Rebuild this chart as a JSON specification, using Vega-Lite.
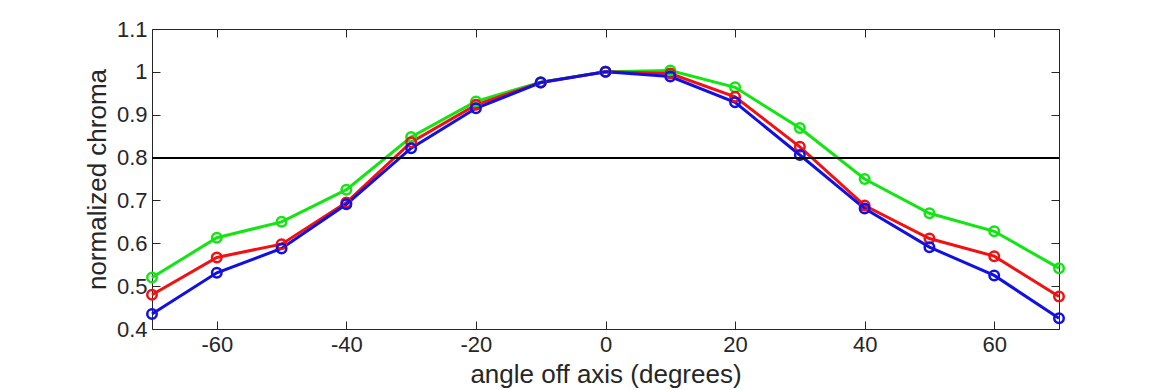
{
  "$schema": "https://vega.github.io/schema/vega-lite/v6.json",
  "width": 907,
  "height": 300,
  "autosize": {"type": "none"},
  "padding": {"left": 152, "top": 29, "right": 111, "bottom": 61},
  "background": "white",
  "config": {
    "view": {"stroke": "#262626", "strokeWidth": 1},
    "font": "Liberation Sans",
    "axis": {
      "grid": false,
      "domain": false,
      "tickColor": "#262626",
      "tickSize": -8,
      "labelColor": "#262626",
      "labelFont": "Liberation Sans",
      "labelFontSize": 22,
      "titleFont": "Liberation Sans",
      "titleFontSize": 26,
      "titleFontWeight": "normal",
      "titleColor": "#262626"
    }
  },
  "resolve": {"axis": {"x": "independent", "y": "independent"}},
  "data": {
    "values": [
      {"angle": -70, "channel": "green", "value": 0.520},
      {"angle": -60, "channel": "green", "value": 0.613},
      {"angle": -50, "channel": "green", "value": 0.650},
      {"angle": -40, "channel": "green", "value": 0.725},
      {"angle": -30, "channel": "green", "value": 0.848},
      {"angle": -20, "channel": "green", "value": 0.931},
      {"angle": -10, "channel": "green", "value": 0.976},
      {"angle": 0, "channel": "green", "value": 1.0},
      {"angle": 10, "channel": "green", "value": 1.003},
      {"angle": 20, "channel": "green", "value": 0.964},
      {"angle": 30, "channel": "green", "value": 0.869},
      {"angle": 40, "channel": "green", "value": 0.750},
      {"angle": 50, "channel": "green", "value": 0.670},
      {"angle": 60, "channel": "green", "value": 0.628},
      {"angle": 70, "channel": "green", "value": 0.542},
      {"angle": -70, "channel": "red", "value": 0.480},
      {"angle": -60, "channel": "red", "value": 0.567},
      {"angle": -50, "channel": "red", "value": 0.598},
      {"angle": -40, "channel": "red", "value": 0.695},
      {"angle": -30, "channel": "red", "value": 0.836},
      {"angle": -20, "channel": "red", "value": 0.923},
      {"angle": -10, "channel": "red", "value": 0.975},
      {"angle": 0, "channel": "red", "value": 1.0},
      {"angle": 10, "channel": "red", "value": 0.996},
      {"angle": 20, "channel": "red", "value": 0.942},
      {"angle": 30, "channel": "red", "value": 0.825},
      {"angle": 40, "channel": "red", "value": 0.688},
      {"angle": 50, "channel": "red", "value": 0.611},
      {"angle": 60, "channel": "red", "value": 0.570},
      {"angle": 70, "channel": "red", "value": 0.476},
      {"angle": -70, "channel": "blue", "value": 0.435},
      {"angle": -60, "channel": "blue", "value": 0.531},
      {"angle": -50, "channel": "blue", "value": 0.588},
      {"angle": -40, "channel": "blue", "value": 0.691},
      {"angle": -30, "channel": "blue", "value": 0.822},
      {"angle": -20, "channel": "blue", "value": 0.915},
      {"angle": -10, "channel": "blue", "value": 0.975},
      {"angle": 0, "channel": "blue", "value": 1.0},
      {"angle": 10, "channel": "blue", "value": 0.989},
      {"angle": 20, "channel": "blue", "value": 0.929},
      {"angle": 30, "channel": "blue", "value": 0.806},
      {"angle": 40, "channel": "blue", "value": 0.681},
      {"angle": 50, "channel": "blue", "value": 0.591},
      {"angle": 60, "channel": "blue", "value": 0.525},
      {"angle": 70, "channel": "blue", "value": 0.425}
    ]
  },
  "encoding": {
    "x": {
      "field": "angle",
      "type": "quantitative",
      "scale": {"domain": [-70, 70], "nice": false, "zero": false},
      "axis": null
    },
    "y": {
      "field": "value",
      "type": "quantitative",
      "scale": {"domain": [0.4, 1.1], "nice": false, "zero": false},
      "axis": null
    },
    "color": {
      "field": "channel",
      "type": "nominal",
      "scale": {"domain": ["green", "red", "blue"], "range": ["#12e612", "#f21010", "#1010e6"]},
      "legend": null
    }
  },
  "layer": [
    {
      "mark": {"type": "line", "strokeWidth": 3},
      "encoding": {
        "x": {
          "field": "angle",
          "type": "quantitative",
          "axis": {
            "orient": "bottom",
            "title": "angle off axis (degrees)",
            "values": [-60, -40, -20, 0, 20, 40, 60],
            "labelExpr": "datum.value < 0 ? '-' + format(-datum.value, 'd') : format(datum.value, 'd')",
            "labelPadding": 13,
            "titlePadding": 6
          }
        },
        "y": {
          "field": "value",
          "type": "quantitative",
          "axis": {
            "orient": "left",
            "title": "normalized chroma",
            "values": [0.4, 0.5, 0.6, 0.7, 0.8, 0.9, 1.0, 1.1],
            "format": ".1~f",
            "labelPadding": 13,
            "titlePadding": 6
          }
        }
      }
    },
    {
      "mark": {"type": "point", "shape": "circle", "filled": false, "size": 90, "strokeWidth": 2.5, "opacity": 1}
    },
    {
      "mark": {"type": "rule", "color": "black", "strokeWidth": 1.2},
      "encoding": {
        "y": {"datum": 0.8, "type": "quantitative"},
        "x": null,
        "color": null
      }
    },
    {
      "mark": {"type": "point", "opacity": 0},
      "encoding": {
        "x": {"field": "angle", "type": "quantitative", "axis": {"orient": "top", "labels": false, "title": null, "values": [-60, -40, -20, 0, 20, 40, 60]}},
        "y": {"field": "value", "type": "quantitative", "axis": {"orient": "right", "labels": false, "title": null, "values": [0.4, 0.5, 0.6, 0.7, 0.8, 0.9, 1.0, 1.1]}}
      }
    }
  ]
}
